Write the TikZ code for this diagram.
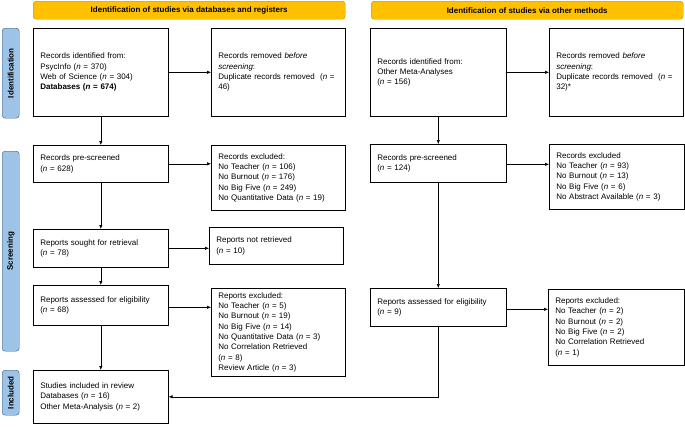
\documentclass[tikz,border=0pt]{standalone}
\usepackage{fontspec}
\setmainfont{Liberation Sans}
\usetikzlibrary{arrows.meta}
\definecolor{headfill}{HTML}{FFC000}
\definecolor{headline}{HTML}{BF9000}
\definecolor{sidefill}{HTML}{9DC3E6}
\definecolor{sideline}{HTML}{3B5A7A}
\newcommand{\nn}{\textit{n}}

\begin{document}
\begin{tikzpicture}[
    x=1pt, y=-1pt,
    font=\fontsize{8}{10.3}\selectfont,
    box/.style={draw, line width=0.6pt, anchor=north west, align=left,
        inner xsep=7pt, inner ysep=2pt, text width=#1-14pt, minimum height=10pt},
    box/.default=135pt,
    header/.style={draw=headline, fill=headfill, rounded corners=3pt, anchor=north west,
        minimum width=312pt, minimum height=18pt, font=\fontsize{8}{10}\selectfont\bfseries},
    side/.style={draw=sideline, fill=sidefill, rounded corners=3pt, anchor=north west,
        minimum width=17pt, inner sep=0pt, font=\fontsize{8}{10}\selectfont\bfseries},
    arr/.style={-{Latex[length=4pt,width=3.5pt]}, line width=0.6pt},
    line/.style={line width=0.6pt}
]
    \useasboundingbox (0,0) rectangle (685,426);

    % headers
    \node[header] (HDB) at (33,1) {Identification of studies via databases and registers};
    \node[header] (HOM) at (371,1) {Identification of studies via other methods};

    % phases
    \node[side, minimum height=90pt] (SIdent) at (2,28) {\rotatebox{90}{Identification}};
    \node[side, minimum height=200pt] (SScreen) at (2,151) {\rotatebox{90}{Screening}};
    \node[side, minimum height=45pt] (SIncl) at (2,370) {\rotatebox{90}{Included}};

    % databases and registers
    \node[box, minimum height=88pt] (RecDB) at (33,28) {Records identified from:\\
        PsycInfo (\nn{} = 370)\\ Web of Science (\nn{} = 304)\\
        \textbf{Databases (\textit{n} = 674)}};
    \node[box=134pt, minimum height=88pt] (RemDB) at (211,28) {Records removed \textit{before}\\
        \textit{screening}:\\ Duplicate records removed\ \ (\nn{} =\\ 46)};
    \node[box, minimum height=37pt] (PreDB) at (33,145) {Records pre-screened\\ (\nn{} = 628)};
    \node[box=134pt, minimum height=65pt] (ExcDB) at (211,145) {Records excluded:\\
        No Teacher (\nn{} = 106)\\ No Burnout (\nn{} = 176)\\ No Big Five (\nn{} = 249)\\
        No Quantitative\ Data (\nn{} = 19)};
    \node[box, minimum height=38pt] (SoughtDB) at (33,229) {Reports sought for retrieval\\ (\nn{} = 78)};
    \node[box=134pt, minimum height=37pt] (NotRet) at (209,227) {Reports not retrieved\\ (\nn{} = 10)};
    \node[box, minimum height=40pt] (AssDB) at (33,285) {Reports assessed for eligibility\\ (\nn{} = 68)};
    \node[box=134pt, minimum height=88pt] (RepExDB) at (211,288) {Reports excluded:\\
        No Teacher (\nn{} = 5)\\ No Burnout (\nn{} = 19)\\ No Big Five (\nn{} = 14)\\
        No Quantitative\ Data (\nn{} = 3)\\ No Correlation Retrieved\\ (\nn{} = 8)\\
        Review Article (\nn{} = 3)};
    \node[box, minimum height=53pt] (Incl) at (33,370) {Studies included in review\\
        Databases (\nn{} = 16)\\ Other Meta-Analysis (\nn{} = 2)};

    % other methods
    \node[box=136pt, minimum height=88pt] (RecOM) at (370,28) {Records identified from:\\
        Other Meta-Analyses\\ (\nn{} = 156)};
    \node[box=134pt, minimum height=88pt] (RemOM) at (549,28) {Records removed \textit{before}\\
        \textit{screening}:\\ Duplicate records removed\ \ (\nn{} =\\ 32)*};
    \node[box=136pt, minimum height=38pt] (PreOM) at (370,144) {Records pre-screened\\ (\nn{} = 124)};
    \node[box=135pt, minimum height=65pt] (ExcOM) at (549,144) {Records excluded\\
        No Teacher (\nn{} = 93)\\ No Burnout (\nn{} = 13)\\ No Big Five (\nn{} = 6)\\
        No Abstract Available (\nn{} = 3)};
    \node[box=136pt, minimum height=38pt] (AssOM) at (370,288) {Reports assessed for eligibility\\ (\nn{} = 9)};
    \node[box=136pt, minimum height=76pt] (RepExOM) at (548,289) {Reports excluded:\\
        No Teacher (\nn{} = 2)\\ No Burnout (\nn{} = 2)\\ No Big Five (\nn{} = 2)\\
        No Correlation Retrieved\\ (\nn{} = 1)};

    % connectors
    \draw[arr] (RecDB) -- (RemDB);
    \draw[arr] (RecDB) -- (PreDB);
    \draw[arr] (PreDB.east) -- (PreDB.east -| ExcDB.west);
    \draw[arr] (PreDB) -- (SoughtDB);
    \draw[arr] (SoughtDB.east) -- (SoughtDB.east -| NotRet.west);
    \draw[arr] (SoughtDB) -- (AssDB);
    \draw[arr] ([yshift=-2pt]AssDB.east) -- ([yshift=-2pt]AssDB.east -| RepExDB.west);
    \draw[arr] (AssDB) -- (Incl);

    \draw[arr] (RecOM) -- (RemOM);
    \draw[arr] (RecOM) -- (PreOM);
    \draw[arr] ([yshift=-1pt]PreOM.east) -- ([yshift=-1pt]PreOM.east -| ExcOM.west);
    \draw[arr] (PreOM) -- (AssOM);
    \draw[arr] ([yshift=-2pt]AssOM.east) -- ([yshift=-2pt]AssOM.east -| RepExOM.west);
    \draw[arr] (AssOM.south) |- (Incl.east);
\end{tikzpicture}
\end{document}
